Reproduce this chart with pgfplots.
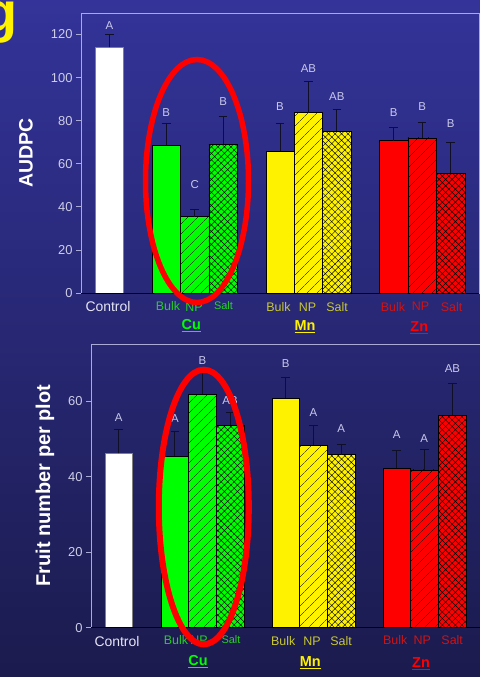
\documentclass[border=0pt]{standalone}
\usepackage{pgfplots}
\pgfplotsset{compat=1.18}
\usepackage{fontspec}
\setmainfont{Liberation Sans}
\usetikzlibrary{patterns.meta}
\definecolor{bgtop}{RGB}{51,51,153}
\definecolor{bgmid}{RGB}{44,44,132}
\definecolor{bgbot}{RGB}{27,27,78}
\definecolor{axiscol}{RGB}{170,170,215}
\definecolor{ticklab}{RGB}{205,205,230}
\definecolor{lettercol}{RGB}{200,200,235}
\definecolor{ctrlcol}{RGB}{230,230,245}
\definecolor{cugreen}{RGB}{0,255,0}
\definecolor{culab}{RGB}{40,205,40}
\definecolor{mnlab}{RGB}{200,200,50}
\definecolor{znlab}{RGB}{205,20,20}
\definecolor{errcol}{RGB}{15,15,40}
\pgfplotsset{
  mybar/.style={ybar, bar width=1, bar shift=0pt, draw=black, line width=0.5pt,
    error bars/y dir=plus, error bars/y explicit,
    error bars/error bar style={errcol, line width=0.9pt},
    error bars/error mark=-,
    error bars/error mark options={rotate=90, errcol, mark size=4.3bp, line width=0.9pt}},
  plain/.style={fill=#1},
  np/.style={fill=#1, postaction={pattern={Lines[angle=45,distance=6.8bp,line width=0.45pt]}, pattern color=black}},
  salt/.style={fill=#1, postaction={pattern={Hatch[angle=45,distance=4.6bp,line width=0.45pt]}, pattern color=black}},
  panel/.style={anchor=south west, scale only axis, xmin=0, clip=false,
    axis line style={draw=axiscol, line width=0.8pt},
    xtick=\empty, ytick pos=left, tick align=outside, major tick length=5bp,
    tick style={axiscol, line width=0.8pt},
    yticklabel style={text=ticklab, font=\fontsize{13}{13}\selectfont},
    /pgf/number format/assume math mode=true},
}
\newcommand{\lt}[1]{\fontsize{#1}{#1}\selectfont}
\begin{document}
\begin{tikzpicture}
\useasboundingbox (0,0) rectangle (480bp,-677bp);
\clip (0,0) rectangle (480bp,-677bp);
\shade[top color=bgtop, middle color=bgmid, bottom color=bgbot] (0,0) rectangle (480bp,-677bp);
\node[anchor=base east, text=yellow, font=\lt{56}\bfseries, inner sep=0pt] at (18bp,-31bp) {g};

% ---------- top panel ----------
\begin{axis}[panel, at={(81bp,-293bp)}, width=398bp, height=280bp,
  xmax=14, ymin=0, ymax=130, ytick={0,20,...,120}]
\addplot[mybar, plain=white, draw=gray] coordinates {(1,114) +- (0,6)};
\addplot[mybar, plain=cugreen] coordinates {(3,68.5) +- (0,10)};
\addplot[mybar, np=cugreen] coordinates {(4,35.5) +- (0,3.5)};
\addplot[mybar, salt=cugreen] coordinates {(5,69) +- (0,13)};
\addplot[mybar, plain=yellow] coordinates {(7,65.7) +- (0,12.8)};
\addplot[mybar, np=yellow] coordinates {(8,83.7) +- (0,14.3)};
\addplot[mybar, salt=yellow] coordinates {(9,75) +- (0,10)};
\addplot[mybar, plain=red] coordinates {(11,70.8) +- (0,6.2)};
\addplot[mybar, np=red] coordinates {(12,72) +- (0,7.4)};
\addplot[mybar, salt=red] coordinates {(13,55.7) +- (0,14)};
\draw[black, line width=1pt] (rel axis cs:0,0) -- (rel axis cs:1,0);
\begin{scope}[every node/.style={text=lettercol, font=\lt{11.5}}]
\node at (axis cs:1,124.3) {A};
\node at (axis cs:3,83.9) {B};
\node at (axis cs:4,50.4) {C};
\node at (axis cs:5,88.8) {B};
\node at (axis cs:7,86.7) {B};
\node at (axis cs:8,104.3) {AB};
\node at (axis cs:9,91.3) {AB};
\node at (axis cs:11,83.7) {B};
\node at (axis cs:12,86.7) {B};
\node at (axis cs:13,78.5) {B};
\end{scope}
\end{axis}
\node[rotate=90, text=white, font=\lt{19.5}\bfseries] at (26bp,-153bp) {AUDPC};
\node[text=ctrlcol, font=\lt{14}] at (108bp,-306.7bp) {Control};
\begin{scope}[every node/.style={font=\lt{12.5}, inner sep=0pt}]
\node[text=culab] at (168bp,-306bp) {Bulk};
\node[text=culab] at (194bp,-307bp) {NP};
\node[text=culab, font=\lt{11}] at (223.5bp,-306bp) {Salt};
\node[text=mnlab] at (278.5bp,-306.7bp) {Bulk};
\node[text=mnlab] at (307.5bp,-307.5bp) {NP};
\node[text=mnlab] at (337bp,-306.7bp) {Salt};
\node[text=znlab] at (393bp,-306.7bp) {Bulk};
\node[text=znlab] at (420.5bp,-306.7bp) {NP};
\node[text=znlab] at (451.5bp,-306.7bp) {Salt};
\end{scope}
\begin{scope}[every node/.style={font=\lt{14.5}\bfseries, inner sep=0pt}]
\node[text=cugreen] at (191.3bp,-326bp) {\underline{Cu}};
\node[text=yellow] at (305bp,-327bp) {\underline{Mn}};
\node[text=red] at (419.3bp,-328bp) {\underline{Zn}};
\end{scope}
\draw[red, line width=5.5bp] (197bp,-181bp) ellipse [x radius=51.5bp, y radius=121.5bp];

% ---------- bottom panel ----------
\begin{axis}[panel, at={(91bp,-627.7bp)}, width=389bp, height=283bp,
  xmax=14.1, ymin=0, ymax=75, ytick={0,20,40,60}]
\addplot[mybar, plain=white, draw=gray] coordinates {(1,46.2) +- (0,6.3)};
\addplot[mybar, plain=cugreen] coordinates {(3.04,45.5) +- (0,6.6)};
\addplot[mybar, np=cugreen] coordinates {(4.04,61.9) +- (0,5.8)};
\addplot[mybar, salt=cugreen] coordinates {(5.04,53.7) +- (0,3.3)};
\addplot[mybar, plain=yellow] coordinates {(7.06,60.8) +- (0,5.5)};
\addplot[mybar, np=yellow] coordinates {(8.06,48.3) +- (0,5.3)};
\addplot[mybar, salt=yellow] coordinates {(9.07,45.9) +- (0,2.7)};
\addplot[mybar, plain=red] coordinates {(11.08,42.2) +- (0,4.8)};
\addplot[mybar, np=red] coordinates {(12.08,41.8) +- (0,5.5)};
\addplot[mybar, salt=red] coordinates {(13.1,56.3) +- (0,8.5)};
\draw[black, line width=1pt] (rel axis cs:0,0) -- (rel axis cs:1,0);
\begin{scope}[every node/.style={text=lettercol, font=\lt{11.5}}]
\node at (axis cs:1,55.7) {A};
\node at (axis cs:3.04,55.4) {A};
\node at (axis cs:4.04,70.8) {B};
\node at (axis cs:5.04,60.1) {AB};
\node at (axis cs:7.06,70.1) {B};
\node at (axis cs:8.06,57.0) {A};
\node at (axis cs:9.07,52.9) {A};
\node at (axis cs:11.08,51.1) {A};
\node at (axis cs:12.08,50.2) {A};
\node at (axis cs:13.1,68.7) {AB};
\end{scope}
\end{axis}
\node[rotate=90, text=white, font=\lt{20}\bfseries] at (45bp,-485.5bp) {Fruit number per plot};
\node[text=ctrlcol, font=\lt{14}] at (117bp,-642bp) {Control};
\begin{scope}[every node/.style={font=\lt{12.5}, inner sep=0pt}]
\node[text=culab] at (176bp,-640bp) {Bulk};
\node[text=culab] at (199bp,-640bp) {NP};
\node[text=culab, font=\lt{11}] at (231bp,-640bp) {Salt};
\node[text=mnlab] at (283.3bp,-641bp) {Bulk};
\node[text=mnlab] at (312bp,-641bp) {NP};
\node[text=mnlab] at (341bp,-641bp) {Salt};
\node[text=znlab] at (395.3bp,-640bp) {Bulk};
\node[text=znlab] at (422.3bp,-640bp) {NP};
\node[text=znlab] at (452.2bp,-640bp) {Salt};
\end{scope}
\begin{scope}[every node/.style={font=\lt{14.5}\bfseries, inner sep=0pt}]
\node[text=cugreen] at (198bp,-662bp) {\underline{Cu}};
\node[text=yellow] at (310.3bp,-663bp) {\underline{Mn}};
\node[text=red] at (421bp,-664bp) {\underline{Zn}};
\end{scope}
\draw[red, line width=6bp] (203.8bp,-507bp) ellipse [x radius=45bp, y radius=137.3bp];
\end{tikzpicture}
\end{document}
